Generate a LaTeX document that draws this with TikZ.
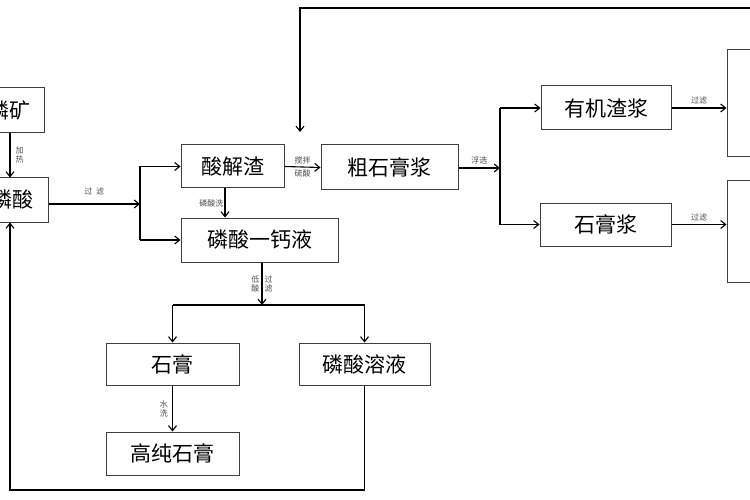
\documentclass[tikz,border=0pt]{standalone}
\usepackage{fontspec}
\setmainfont{Noto Sans CJK SC}
\usetikzlibrary{arrows.meta}
\begin{document}
\begin{tikzpicture}[x=1pt,y=-1pt,
 box/.style={draw=black!75,line width=1pt,inner sep=0pt,font=\fontsize{21}{22}\selectfont},
 ar/.style={line width=1.1pt,-{Straight Barb[length=5pt,width=8pt]}},
 ln/.style={line width=1.1pt},
 lab/.style={font=\fontsize{8}{9}\selectfont,text=black!70,inner sep=0pt,align=center}]
\useasboundingbox (0,0) rectangle (750,500);
\clip (0,0) rectangle (750,500);
\fill[white] (0,0) rectangle (750,500);
\node[box,minimum width=104,minimum height=45] (ore) at (-8,110.5) {\hspace*{36pt}磷矿};
\node[box,minimum width=108,minimum height=44] (acid) at (-6,200) {\hspace*{36pt}磷酸};
\node[box,minimum width=103,minimum height=43] (res) at (232.5,166.5) {酸解渣};
\node[box,minimum width=157,minimum height=44] (mcp) at (259.5,240) {磷酸一钙液};
\node[box,minimum width=137,minimum height=45] (crude) at (389.5,167.5) {粗石膏浆};
\node[box,minimum width=130,minimum height=44] (org) at (606,108) {有机渣浆};
\node[box,minimum width=131,minimum height=43] (gyp) at (605.5,224.5) {石膏浆};
\node[box,minimum width=40,minimum height=107] (r1) at (747,103.5) {};
\node[box,minimum width=40,minimum height=101] (r2) at (747,231.5) {};
\node[box,minimum width=133,minimum height=42] (g) at (172.5,364) {石膏};
\node[box,minimum width=131,minimum height=42] (pa) at (364.5,364) {磷酸溶液};
\node[box,minimum width=133,minimum height=43] (hg) at (172.5,453.5) {高纯石膏};
\coordinate (s1) at (140,204);
\coordinate (s2) at (500,168);
\coordinate (s3) at (262,305);
\draw[ar] (ore.south -| 10,0) -- (acid.north -| 10,0) node[lab,midway,right=5pt] {加\\热};
\draw[ar] (acid.east |- s1) -- (s1) node[lab,midway,above=8pt] {过\ \ 滤};
\draw[ln] (s1 |- res.west) -- (s1 |- mcp.west);
\draw[ar] (s1 |- res.west) -- (res.west);
\draw[ar] (s1 |- mcp.west) -- (mcp.west);
\draw[ar] (res.south -| 225,0) -- (mcp.north -| 225,0) node[lab,midway,left=1pt] {磷酸洗};
\draw[ar] (res.east) -- (crude.west) node[lab,midway,above=2pt] {搅拌} node[lab,midway,below=2pt] {硫酸};
\draw[ar] (750,8) -| (300,132);
\draw[ar] (crude.east |- s2) -- (s2) node[lab,midway,above=3pt] {浮选};
\draw[ln] (s2 |- org.west) -- (s2 |- gyp.west);
\draw[ar] (s2 |- org.west) -- (org.west);
\draw[ar] (s2 |- gyp.west) -- (gyp.west);
\draw[ar] (org.east) -- (org.east -| r1.west) node[lab,midway,above=3pt] {过滤};
\draw[ar] (gyp.east) -- (gyp.east -| r2.west) node[lab,midway,above=3pt] {过滤};
\draw[ar] (mcp.south -| s3) -- (s3) node[lab,midway,left=2pt] {低\\酸} node[lab,midway,right=2pt] {过\\滤};
\draw[ln] (g.north |- s3) -- (pa.north |- s3);
\draw[ar] (g.north |- s3) -- (g.north);
\draw[ar] (pa.north |- s3) -- (pa.north);
\draw[ar] (g.south) -- (hg.north) node[lab,midway,left=4pt] {水\\洗};
\draw[ar] (pa.south) -- (pa.south |- 0,490) -| (acid.south -| 10,0);
\end{tikzpicture}
\end{document}
